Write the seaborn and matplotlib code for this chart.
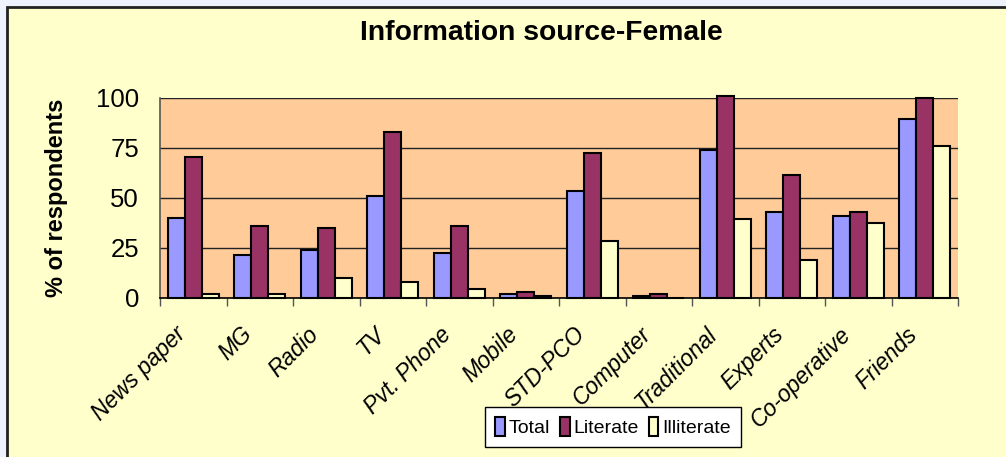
import matplotlib
matplotlib.use('Agg')
import matplotlib.pyplot as plt
from matplotlib.patches import Rectangle
from matplotlib.transforms import ScaledTranslation
import numpy as np
import pandas as pd
import seaborn as sns

# values (% of respondents)
sources = ['News paper', 'MG', 'Radio', 'TV', 'Pvt. Phone', 'Mobile', 'STD-PCO',
           'Computer', 'Traditional', 'Experts', 'Co-operative', 'Friends']
total = [40.0, 21.3, 24.0, 50.7, 22.3, 1.7, 53.3, 0.7, 73.8, 42.7, 40.8, 89.2]
literate = [70.3, 35.7, 34.7, 82.8, 35.7, 2.7, 72.2, 1.7, 100.8, 61.3, 42.7, 99.8]
illiterate = [1.8, 1.8, 9.7, 8.0, 4.3, 0.8, 28.3, 0.0, 39.2, 18.7, 37.3, 75.7]
groups = ['Total', 'Literate', 'Illiterate']
colors = ['#9999FF', '#993366', '#FFFFCC']

df = pd.DataFrame({
    'source': sources * 3,
    'pct': total + literate + illiterate,
    'group': np.repeat(groups, len(sources)),
})

sns.set_style('white')
plt.rcParams['font.family'] = ['Liberation Sans', 'DejaVu Sans']
plt.rcParams['text.color'] = 'black'
plt.rcParams['xtick.color'] = 'black'
plt.rcParams['ytick.color'] = 'black'

W, H = 1006, 457
fig = plt.figure(figsize=(W / 100, H / 100), dpi=100)
fig.patch.set_facecolor('#EEF2FC')
# chart area frame
fig.patches.append(Rectangle((7 / W, -0.05), 1.05, 1 - 6.5 / H + 0.05,
                             transform=fig.transFigure, facecolor='#FFFFCC',
                             edgecolor='#222222', linewidth=2, zorder=-5))

ax = fig.add_axes([160 / W, 1 - 297.5 / H, (958 - 160) / W, 200 / H])
ax.set_facecolor('#FFCC99')

sns.barplot(data=df, x='source', y='pct', hue='group', hue_order=groups,
            palette=colors, width=0.76, gap=0, edgecolor='black', linewidth=1.5,
            saturation=1, ax=ax, zorder=3)
for p in ax.patches:
    p.set_clip_on(False)

ax.set_ylim(0, 100)
ax.set_xlim(-0.5, len(sources) - 0.5)
ax.set_yticks([0, 25, 50, 75, 100])
ax.yaxis.grid(True, color='#222222', linewidth=1)
ax.set_axisbelow(True)
for s in ['top', 'right']:
    ax.spines[s].set_visible(False)
ax.spines['left'].set_color('#555555')
ax.spines['bottom'].set_color('black')
ax.spines['left'].set_linewidth(1.2)
ax.spines['bottom'].set_linewidth(1.2)

ax.tick_params(axis='y', length=7, width=1, color='#555555', pad=8, labelsize=18.5)
ax.set_xticks(np.arange(-0.5, len(sources)), minor=True)
ax.tick_params(axis='x', which='minor', length=6, width=1, color='#555555', bottom=True)
ax.tick_params(axis='x', which='major', length=0, pad=24)
ax.set_xticks(range(len(sources)))
ax.set_xticklabels(sources, rotation=45, ha='right', va='center',
                   rotation_mode='anchor', fontsize=16.5, style='italic')
off = ScaledTranslation(-8 / 72, 0, fig.dpi_scale_trans)
for lab in ax.get_xticklabels():
    lab.set_transform(lab.get_transform() + off)

ax.set_xlabel('')
ax.set_ylabel('')
fig.text(56 / W, 1 - 197.5 / H, '% of respondents', rotation=90, ha='center',
         va='center', fontsize=17, fontweight='bold')
fig.text(541 / W, 1 - 33 / H, 'Information source-Female', ha='center',
         va='center', fontsize=20.3, fontweight='bold')

handles, labels = ax.get_legend_handles_labels()
ax.legend(handles, labels, ncol=3, loc='center',
          bbox_to_anchor=(613 / W, 1 - 427 / H), bbox_transform=fig.transFigure,
          fontsize=14, frameon=True, fancybox=False, edgecolor='black',
          facecolor='white', framealpha=1, handlelength=0.5, handleheight=1.1,
          handletextpad=0.2, columnspacing=0.5, borderpad=0.5)

fig.savefig('out.png', dpi=100, facecolor=fig.get_facecolor())
